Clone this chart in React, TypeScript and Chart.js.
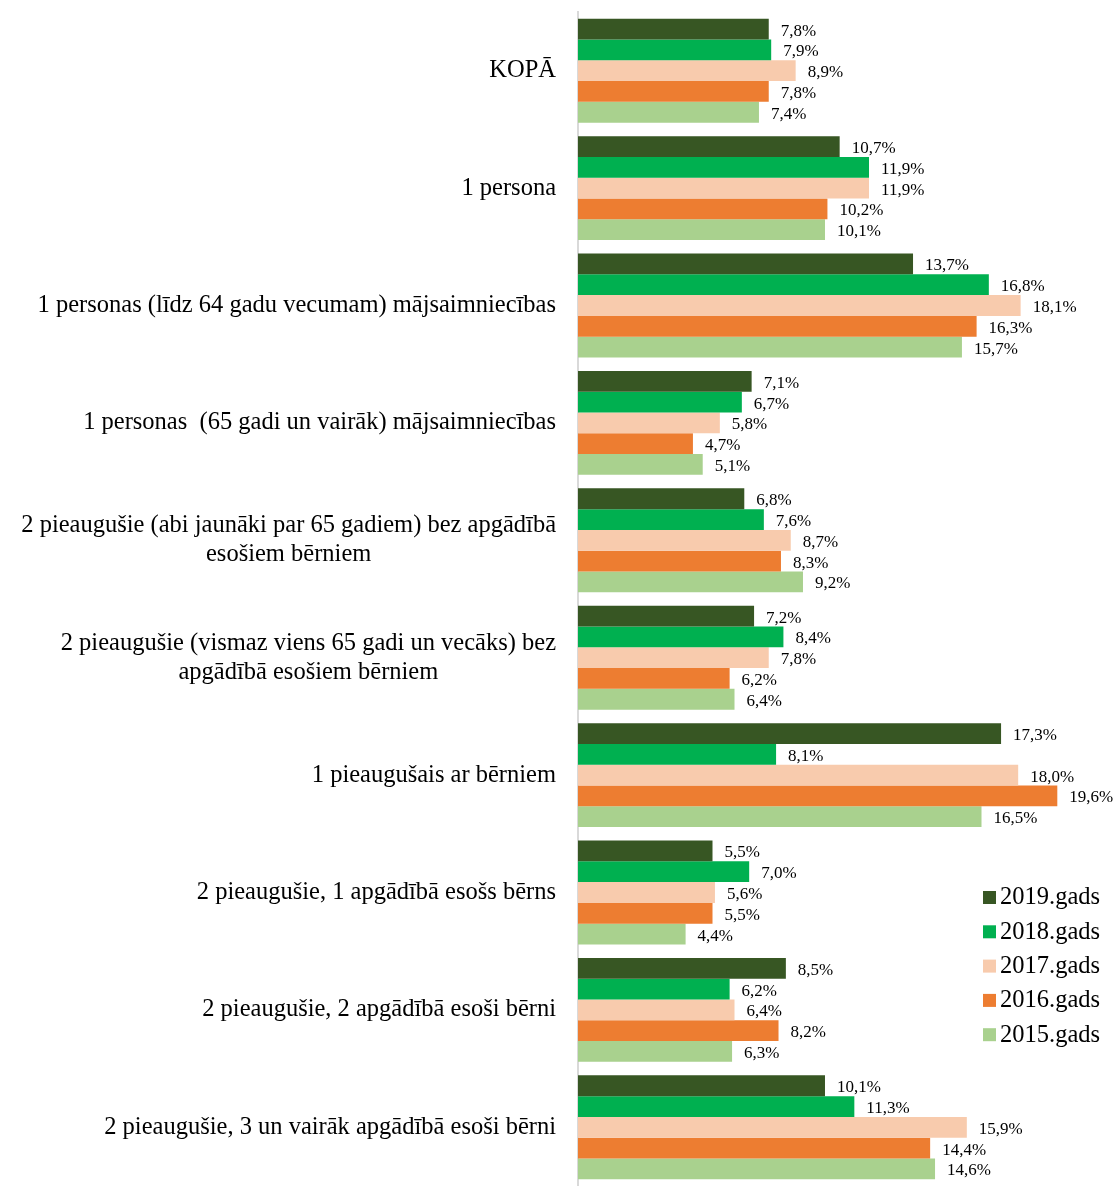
import React, { useEffect, useRef } from "react";
import { Chart, registerables } from "chart.js";

Chart.register(...registerables);

const categories: string[][] = [
  ["KOPĀ"],
  ["1 persona"],
  ["1 personas (līdz 64 gadu vecumam) mājsaimniecības"],
  ["1 personas  (65 gadi un vairāk) mājsaimniecības"],
  ["2 pieaugušie (abi jaunāki par 65 gadiem) bez apgādībā", "esošiem bērniem"],
  ["2 pieaugušie (vismaz viens 65 gadi un vecāks) bez", "apgādībā esošiem bērniem"],
  ["1 pieaugušais ar bērniem"],
  ["2 pieaugušie, 1 apgādībā esošs bērns"],
  ["2 pieaugušie, 2 apgādībā esoši bērni"],
  ["2 pieaugušie, 3 un vairāk apgādībā esoši bērni"],
];

const seriesNames = ["2019.gads", "2018.gads", "2017.gads", "2016.gads", "2015.gads"];
const seriesColors = ["#375623", "#00B050", "#F8CBAD", "#ED7D31", "#A9D18E"];

const values2019 = [7.8, 10.7, 13.7, 7.1, 6.8, 7.2, 17.3, 5.5, 8.5, 10.1];
const values2018 = [7.9, 11.9, 16.8, 6.7, 7.6, 8.4, 8.1, 7.0, 6.2, 11.3];
const values2017 = [8.9, 11.9, 18.1, 5.8, 8.7, 7.8, 18.0, 5.6, 6.4, 15.9];
const values2016 = [7.8, 10.2, 16.3, 4.7, 8.3, 6.2, 19.6, 5.5, 8.2, 14.4];
const values2015 = [7.4, 10.1, 15.7, 5.1, 9.2, 6.4, 16.5, 4.4, 6.3, 14.6];

const seriesValues = [values2019, values2018, values2017, values2016, values2015];

const FONT = '"Liberation Serif", "Times New Roman", serif';

const fmt = (v: number) => v.toFixed(1).replace(".", ",") + "%";

const customPlugin = {
  id: "customDraw",
  afterDatasetsDraw(chart: any) {
    const ctx = chart.ctx as CanvasRenderingContext2D;
    const area = chart.chartArea;
    const yScale = chart.scales.y;
    ctx.save();
    // category labels
    ctx.fillStyle = "#000000";
    ctx.font = `24.5px ${FONT}`;
    ctx.textBaseline = "middle";
    ctx.textAlign = "center";
    const rightEdge = area.left - 22;
    const lineH = 29;
    categories.forEach((lines, i) => {
      const cy = yScale.getPixelForValue(i);
      const w = Math.max(...lines.map((l) => ctx.measureText(l).width));
      const cx = rightEdge - w / 2;
      const startY = cy - ((lines.length - 1) * lineH) / 2;
      lines.forEach((l, j) => ctx.fillText(l, cx, startY + j * lineH));
    });
    // data labels
    ctx.font = `17px ${FONT}`;
    ctx.textAlign = "left";
    ctx.fillStyle = "#000000";
    chart.data.datasets.forEach((ds: any, di: number) => {
      const meta = chart.getDatasetMeta(di);
      meta.data.forEach((bar: any, i: number) => {
        ctx.fillText(fmt(ds.data[i]), bar.x + 12, bar.y + 2);
      });
    });
    // legend
    const lx = area.right - 133;
    const ly0 = area.bottom - 289;
    const gap = 34.3;
    ctx.font = `24.5px ${FONT}`;
    seriesNames.forEach((name, i) => {
      const y = ly0 + i * gap;
      ctx.fillStyle = seriesColors[i];
      ctx.fillRect(lx, y - 6, 13, 13);
      ctx.fillStyle = "#000000";
      ctx.fillText(name, lx + 17, y + 1);
    });
    ctx.restore();
  },
};

export default function App() {
  const canvasRef = useRef<HTMLCanvasElement | null>(null);

  useEffect(() => {
    document.body.style.margin = "0";
    const canvas = canvasRef.current;
    if (!canvas) return;
    const chart = new Chart(canvas, {
      type: "bar",
      data: {
        labels: categories.map((c) => c.join(" ")),
        datasets: seriesNames.map((name, i) => ({
          label: name,
          data: seriesValues[i],
          backgroundColor: seriesColors[i],
          borderWidth: 0,
          categoryPercentage: 0.885,
          barPercentage: 1.0,
        })),
      },
      options: {
        indexAxis: "y",
        responsive: false,
        animation: false,
        layout: { padding: { left: 570, top: 12, right: 2, bottom: 0 } },
        plugins: {
          legend: { display: false },
          tooltip: { enabled: false },
        },
        scales: {
          x: {
            min: 0,
            max: 22,
            display: false,
            grid: { display: false },
          },
          y: {
            grid: { display: false },
            border: { display: true, color: "#D9D9D9", width: 2 },
            ticks: { display: false },
          },
        },
      },
      plugins: [customPlugin],
    });
    return () => chart.destroy();
  }, []);

  return (
    <div style={{ width: 1118, height: 1186 }}>
      <canvas ref={canvasRef} width={1118} height={1186} style={{ display: "block" }} />
    </div>
  );
}
